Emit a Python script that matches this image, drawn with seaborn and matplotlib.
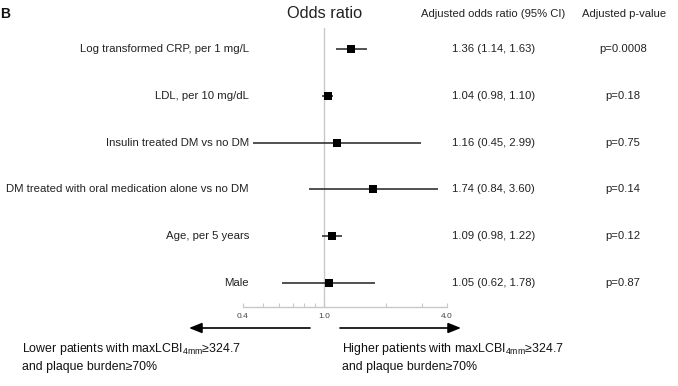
import numpy as np
import pandas as pd
import matplotlib
matplotlib.use("Agg")
import matplotlib.pyplot as plt
import matplotlib.transforms as mtransforms
from matplotlib.patches import FancyArrowPatch
from matplotlib.ticker import FixedLocator, NullFormatter, FixedFormatter
import seaborn as sns

labels = ["Log transformed CRP, per 1 mg/L", "LDL, per 10 mg/dL",
          "Insulin treated DM vs no DM",
          "DM treated with oral medication alone vs no DM",
          "Age, per 5 years", "Male"]
odds = [1.36, 1.04, 1.16, 1.74, 1.09, 1.05]
lower = [1.14, 0.98, 0.45, 0.84, 0.98, 0.62]
upper = [1.63, 1.10, 2.99, 3.60, 1.22, 1.78]
pvals = ["p=0.0008", "p=0.18", "p=0.75", "p=0.14", "p=0.12", "p=0.87"]
major_ticks = [0.4, 1.0, 4.0]
major_labels = ["0.4", "1.0", "4.0"]
minor_ticks = [0.5, 0.6, 0.7, 0.8, 0.9, 2.0, 3.0]

sns.set_style("white")
plt.rcParams['font.family'] = ['Liberation Sans', 'DejaVu Sans']
plt.rcParams['mathtext.fontset'] = 'custom'
plt.rcParams['mathtext.rm'] = 'Liberation Sans'
plt.rcParams['mathtext.it'] = 'Liberation Sans:italic'

W, H = 678, 386
fig = plt.figure(figsize=(W / 100, H / 100), dpi=100)

def fx(px):
    return px / W

def fy(py):
    return 1 - py / H

# axes pixel box
x0, x1 = 243, 447
ytop, ybot = 28, 307
ax = fig.add_axes([fx(x0), fy(ybot), fx(x1 - x0), (ybot - ytop) / H])

df = pd.DataFrame({"label": labels, "odds": odds, "lower": lower,
                   "upper": upper, "row": np.arange(len(labels))})

ax.axvline(1.0, color="#c8c8c8", lw=1.0, zorder=0)
ax.hlines(df["row"], df["lower"], df["upper"], color="#222222", lw=1.1, zorder=2)
sns.scatterplot(data=df, x="odds", y="row", marker="s", s=30, color="black",
                edgecolor="black", linewidth=0, ax=ax, zorder=3, legend=False)

ax.set_xscale("log")
ax.set_xlim(0.4, 4.0)
row_px = 46.8
ax.set_ylim((ybot - 49) / row_px, -(49 - ytop) / row_px)
ax.set_xlabel("")
ax.set_ylabel("")
ax.set_yticks([])
ax.xaxis.set_major_locator(FixedLocator(major_ticks))
ax.xaxis.set_major_formatter(FixedFormatter(major_labels))
ax.xaxis.set_minor_locator(FixedLocator(minor_ticks))
ax.xaxis.set_minor_formatter(NullFormatter())
for s in ["top", "left", "right"]:
    ax.spines[s].set_visible(False)
ax.spines["bottom"].set_color("#c8c8c8")
ax.spines["bottom"].set_linewidth(1.0)
ax.tick_params(axis="x", which="both", direction="in", length=3, width=0.8,
               color="#c8c8c8", labelsize=6, labelcolor="#444444", pad=4,
               bottom=True)
ax.patch.set_alpha(0)

trans = mtransforms.blended_transform_factory(fig.transFigure, ax.transData)
for i, lab in enumerate(labels):
    ax.text(fx(249), i, lab, transform=trans, ha="right", va="center",
            fontsize=8.2, color="#222222")
    ax.text(fx(452), i, f"{odds[i]:.2f} ({lower[i]:.2f}, {upper[i]:.2f})",
            transform=trans, ha="left", va="center", fontsize=8.1, color="#222222")
    ax.text(fx(623), i, pvals[i], transform=trans, ha="center", va="center",
            fontsize=8.1, color="#222222")

fig.text(fx(325), fy(13), "Odds ratio", ha="center", va="center", fontsize=11.8,
         color="#222222")
fig.text(fx(493), fy(14), "Adjusted odds ratio (95% CI)", ha="center",
         va="center", fontsize=8.1, color="#222222")
fig.text(fx(624), fy(14), "Adjusted p-value", ha="center", va="center",
         fontsize=8.1, color="#222222")
fig.text(fx(0), fy(14), "B", ha="left", va="center", fontsize=10,
         fontweight="bold", color="#111111")

arrow_kw = dict(arrowstyle="-|>,head_length=0.55,head_width=0.22", color="black",
                lw=1.2, shrinkA=0, shrinkB=0, mutation_scale=14)
fig.add_artist(FancyArrowPatch((fx(310), fy(328)), (fx(189), fy(328)),
               transform=fig.transFigure, **arrow_kw))
fig.add_artist(FancyArrowPatch((fx(340), fy(328)), (fx(461), fy(328)),
               transform=fig.transFigure, **arrow_kw))

left_txt = "Lower patients with maxLCBI$_{\\mathrm{4mm}}$≥324.7\nand plaque burden≥70%"
right_txt = "Higher patients with maxLCBI$_{\\mathrm{4mm}}$≥324.7\nand plaque burden≥70%"
fig.text(fx(22), fy(357), left_txt, ha="left", va="center", fontsize=8.9,
         linespacing=1.5, color="#111111")
fig.text(fx(342), fy(357), right_txt, ha="left", va="center", fontsize=8.9,
         linespacing=1.5, color="#111111")

fig.savefig("out.png", dpi=100)
